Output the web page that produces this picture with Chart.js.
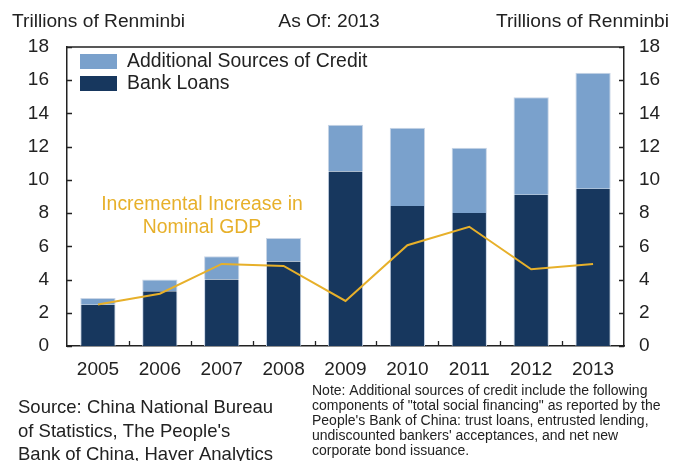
<!DOCTYPE html>
<html>
<head>
<meta charset="utf-8">
<script src="https://cdn.jsdelivr.net/npm/chart.js"></script>
<style>
  html, body { margin: 0; padding: 0; background: #fff; }
  canvas { display: block; }
</style>
</head>
<body>
<canvas id="creditChart" width="673" height="461"></canvas>
<script>
const years = ['2005', '2006', '2007', '2008', '2009', '2010', '2011', '2012', '2013'];
const bankLoans = [2.49, 3.29, 4.0, 5.09, 10.5, 8.43, 8.0, 9.11, 9.47];
const additionalCredit = [0.4, 0.71, 1.41, 1.41, 2.82, 4.71, 3.93, 5.86, 6.98];
const gdpIncrease = [2.5, 3.15, 4.94, 4.82, 2.71, 6.07, 7.18, 4.62, 4.94];
const yTicks = [0, 2, 4, 6, 8, 10, 12, 14, 16, 18];

const sourceLines = ['Source: China National Bureau', 'of Statistics, The People\'s', 'Bank of China, Haver Analytics'];
const noteLines = [
  'Note: Additional sources of credit include the following',
  'components of "total social financing" as reported by the',
  'People\'s Bank of China: trust loans, entrusted lending,',
  'undiscounted bankers\' acceptances, and net new',
  'corporate bond issuance.'
];

const navy = '#17375e';
const lightBlue = '#7aa1cc';
const gold = '#e7b02a';
const ink = '#222';
const FONT = '"Liberation Sans", Arial, sans-serif';

// frame top line, inward tick marks, legend and all loose text
const decorations = {
  id: 'decorations',
  afterDraw(chart) {
    const ctx = chart.ctx;
    const area = chart.chartArea;
    const x = chart.scales.x;
    const y = chart.scales.y;
    ctx.save();
    ctx.strokeStyle = ink;
    ctx.lineWidth = 1.3;
    ctx.beginPath();
    ctx.moveTo(area.left, area.top);
    ctx.lineTo(area.right, area.top);
    yTicks.forEach(v => {
      const py = Math.round(y.getPixelForValue(v)) + 0.5;
      ctx.moveTo(area.left, py); ctx.lineTo(area.left + 5, py);
      ctx.moveTo(area.right, py); ctx.lineTo(area.right - 5, py);
    });
    for (let i = 1; i < years.length; i++) {
      const px = Math.round((x.getPixelForValue(i - 1) + x.getPixelForValue(i)) / 2) + 0.5;
      ctx.moveTo(px, area.bottom); ctx.lineTo(px, area.bottom - 5);
    }
    ctx.stroke();

    // legend
    const items = [chart.data.datasets[1], chart.data.datasets[0]];
    ctx.font = '19.4px ' + FONT;
    ctx.textBaseline = 'middle';
    ctx.textAlign = 'left';
    items.forEach((ds, i) => {
      const top = 54 + i * 22;
      ctx.fillStyle = ds.backgroundColor;
      ctx.fillRect(80, top, 37, 15);
      ctx.fillStyle = ink;
      ctx.fillText(ds.label, 127, top + 8);
    });

    // headers
    ctx.textBaseline = 'alphabetic';
    ctx.font = '19.2px ' + FONT;
    ctx.fillStyle = ink;
    ctx.textAlign = 'left';
    ctx.fillText('Trillions of Renminbi', 12, 27);
    ctx.textAlign = 'center';
    ctx.fillText('As Of: 2013', 329, 27);
    ctx.textAlign = 'right';
    ctx.fillText('Trillions of Renminbi', 669, 27);

    // line annotation
    ctx.font = '19.4px ' + FONT;
    ctx.fillStyle = gold;
    ctx.textAlign = 'center';
    ctx.fillText('Incremental Increase in', 202, 210);
    ctx.fillText('Nominal GDP', 202, 233);

    // footer
    ctx.font = '18.5px ' + FONT;
    ctx.fillStyle = ink;
    ctx.textAlign = 'left';
    sourceLines.forEach((t, i) => ctx.fillText(t, 18, 413 + i * 23.5));
    ctx.font = '14px ' + FONT;
    noteLines.forEach((t, i) => ctx.fillText(t, 312, 395 + i * 15));
    ctx.restore();
  }
};

const tickFont = { family: FONT, size: 19 };

new Chart(document.getElementById('creditChart'), {
  type: 'bar',
  data: {
    labels: years,
    datasets: [
      {
        label: 'Bank Loans',
        data: bankLoans,
        backgroundColor: navy,
        borderColor: '#c9d5e6',
        borderWidth: { left: 1, right: 1, top: 0, bottom: 0 },
        stack: 'credit',
        order: 2,
        barPercentage: 0.57,
        categoryPercentage: 1
      },
      {
        label: 'Additional Sources of Credit',
        data: additionalCredit,
        backgroundColor: lightBlue,
        borderColor: '#c9d5e6',
        borderWidth: { left: 1, right: 1, top: 1, bottom: 0 },
        stack: 'credit',
        order: 2,
        barPercentage: 0.57,
        categoryPercentage: 1
      },
      {
        type: 'line',
        label: 'Incremental Increase in Nominal GDP',
        data: gdpIncrease,
        borderColor: gold,
        borderWidth: 2,
        pointRadius: 0,
        tension: 0,
        fill: false,
        stack: 'gdp',
        order: 1
      }
    ]
  },
  options: {
    responsive: false,
    animation: false,
    devicePixelRatio: 1,
    layout: { padding: { top: 47, left: 0, right: 0, bottom: 0 } },
    plugins: {
      legend: { display: false },
      tooltip: { enabled: false }
    },
    scales: {
      x: {
        stacked: true,
        grid: { display: false, drawTicks: false },
        border: { display: true, color: ink, width: 1.5 },
        ticks: { color: ink, font: tickFont, padding: 12, maxRotation: 0 },
        afterFit: s => { s.height = 115; }
      },
      y: {
        stacked: true,
        position: 'left',
        min: 0,
        max: 18,
        grid: { display: false, drawTicks: false },
        border: { display: true, color: ink, width: 1.5 },
        ticks: { stepSize: 2, color: ink, font: tickFont, padding: 18 },
        afterFit: s => { s.width = 67; }
      },
      y2: {
        position: 'right',
        min: 0,
        max: 18,
        grid: { display: false, drawTicks: false },
        border: { display: true, color: ink, width: 1.5 },
        ticks: { stepSize: 2, color: ink, font: tickFont, padding: 15 },
        afterFit: s => { s.width = 49; }
      }
    }
  },
  plugins: [decorations]
});
</script>
</body>
</html>
